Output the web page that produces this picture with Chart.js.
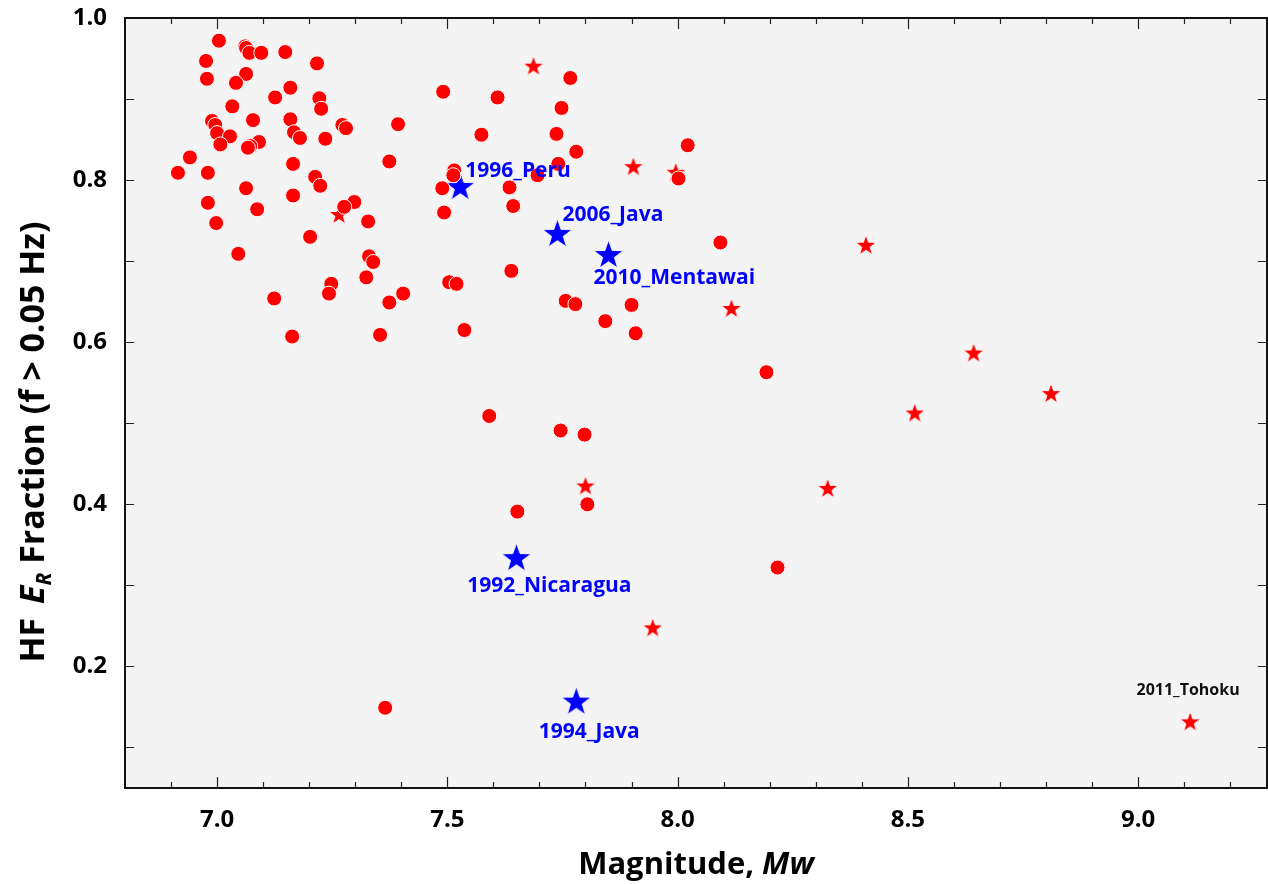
<!DOCTYPE html>
<html>
<head>
<meta charset="utf-8">
<script src="https://cdn.jsdelivr.net/npm/chart.js@4.4.1/dist/chart.umd.min.js"></script>
<style>
  html, body { margin: 0; padding: 0; background: #fff; }
  #wrap { width: 1268px; height: 884px; }
</style>
</head>
<body>
<div id="wrap"><canvas id="myChart" width="1268" height="884"></canvas></div>
<script>
// events shown as red circles (Mw, HF fraction)
const circleMw = [7.004, 7.061, 7.063, 7.070, 7.096, 7.148, 6.976, 7.217, 6.978, 7.063,
  7.041, 7.159, 7.491, 7.126, 7.222, 7.226, 7.033, 6.989, 6.996, 7.078,
  7.159, 7.167, 7.180, 7.272, 7.280, 7.393, 7.000, 7.028, 7.007, 7.091,
  7.072, 7.067, 7.235, 6.941, 7.374, 6.915, 6.980, 7.165, 7.213, 7.224,
  7.515, 7.513, 7.489, 7.063, 7.165, 6.980, 7.087, 7.298, 7.276, 7.328,
  7.493, 6.998, 7.202, 7.046, 7.330, 7.339, 7.324, 7.504, 7.520, 7.248,
  7.243, 7.124, 7.404, 7.374, 7.163, 7.354, 7.537, 7.591, 7.652, 7.767,
  7.609, 7.748, 7.574, 7.737, 7.780, 8.022, 7.741, 7.635, 7.696, 7.643,
  8.002, 8.093, 7.639, 7.757, 7.778, 7.900, 7.843, 7.909, 8.193, 7.746,
  7.798, 7.804, 8.217, 7.365];
const circleFrac = [0.972, 0.965, 0.963, 0.957, 0.957, 0.958, 0.947, 0.944, 0.925, 0.931,
  0.920, 0.914, 0.909, 0.902, 0.901, 0.888, 0.891, 0.873, 0.868, 0.874,
  0.875, 0.859, 0.852, 0.868, 0.864, 0.869, 0.858, 0.854, 0.844, 0.847,
  0.842, 0.840, 0.851, 0.828, 0.823, 0.809, 0.809, 0.820, 0.804, 0.793,
  0.812, 0.806, 0.790, 0.790, 0.781, 0.772, 0.764, 0.773, 0.767, 0.749,
  0.760, 0.747, 0.730, 0.709, 0.706, 0.699, 0.680, 0.674, 0.672, 0.672,
  0.660, 0.654, 0.660, 0.649, 0.607, 0.609, 0.615, 0.509, 0.391, 0.926,
  0.902, 0.889, 0.856, 0.857, 0.835, 0.843, 0.820, 0.791, 0.806, 0.768,
  0.802, 0.723, 0.688, 0.651, 0.647, 0.646, 0.626, 0.611, 0.563, 0.491,
  0.486, 0.400, 0.322, 0.149];

// events shown as red stars
const starMw = [7.687, 7.904, 7.996, 7.265, 8.409, 8.117, 8.643, 8.811, 8.515, 7.800, 8.326, 7.946, 9.113];
const starFrac = [0.940, 0.816, 0.809, 0.757, 0.719, 0.641, 0.586, 0.536, 0.512, 0.422, 0.419, 0.247, 0.131];
const starNames = ["", "", "", "", "", "", "", "", "", "", "", "", "2011_Tohoku"];

// tsunami earthquakes (blue stars)
const tsunamiNames = ["1996_Peru", "2006_Java", "2010_Mentawai", "1992_Nicaragua", "1994_Java"];
const tsunamiMw = [7.528, 7.739, 7.850, 7.650, 7.780];
const tsunamiFrac = [0.791, 0.733, 0.707, 0.333, 0.156];

const xTicks = [7.0, 7.5, 8.0, 8.5, 9.0];
const yTicks = [0.2, 0.4, 0.6, 0.8, 1.0];

// label offsets in pixels from the star centre
const tsunamiLabelOffset = [[5, -16, "left"], [5, -19, "left"], [-15, 23, "left"], [33, 27, "center"], [13, 30, "center"]];

function makeStar(R, color) {
  const c = document.createElement("canvas");
  const s = Math.ceil(2 * R + 4);
  c.width = s; c.height = s;
  const g = c.getContext("2d");
  const r = R * 0.4;
  g.beginPath();
  for (let i = 0; i < 10; i++) {
    const a = -Math.PI / 2 + i * Math.PI / 5;
    const rr = i % 2 === 0 ? R : r;
    const px = s / 2 + rr * Math.cos(a);
    const py = s / 2 + rr * Math.sin(a);
    if (i === 0) g.moveTo(px, py); else g.lineTo(px, py);
  }
  g.closePath();
  g.fillStyle = color;
  g.fill();
  g.lineWidth = 1;
  g.strokeStyle = "rgba(255,255,255,0.9)";
  g.stroke();
  return c;
}

const redStar = makeStar(11, "#ff0000");
const blueStar = makeStar(15.5, "#0000ff");

const FONT = "'Open Sans', 'DejaVu Sans', sans-serif";

const framePlugin = {
  id: "frame",
  beforeDraw(chart) {
    const { ctx, chartArea: a } = chart;
    ctx.save();
    ctx.fillStyle = "#f4f4f4";
    ctx.fillRect(a.left, a.top, a.right - a.left, a.bottom - a.top);
    ctx.restore();
  },
  afterDraw(chart) {
    const { ctx, chartArea: a } = chart;
    const xs = chart.scales.x, ys = chart.scales.y;
    ctx.save();
    ctx.strokeStyle = "#222";
    ctx.lineWidth = 1.2;
    // minor/major ticks, pointing inward
    for (let i = 69; i <= 92; i++) {
      const v = i / 10;
      const px = Math.round(xs.getPixelForValue(v)) + 0.5;
      const len = (i % 5 === 0) ? 11 : 6;
      ctx.beginPath();
      ctx.moveTo(px, a.bottom); ctx.lineTo(px, a.bottom - len);
      ctx.moveTo(px, a.top); ctx.lineTo(px, a.top + len);
      ctx.stroke();
    }
    for (let i = 1; i <= 9; i++) {
      const v = i / 10;
      const py = Math.round(ys.getPixelForValue(v)) + 0.5;
      ctx.beginPath();
      ctx.moveTo(a.left, py); ctx.lineTo(a.left + 9, py);
      ctx.moveTo(a.right, py); ctx.lineTo(a.right - 9, py);
      ctx.stroke();
    }
    ctx.lineWidth = 2;
    ctx.strokeStyle = "#111";
    ctx.strokeRect(a.left, a.top, a.right - a.left, a.bottom - a.top);

    // labels for tsunami earthquakes
    ctx.textBaseline = "middle";
    ctx.fillStyle = "#0000ff";
    ctx.font = "bold 21px " + FONT;
    tsunamiNames.forEach((name, i) => {
      const px = xs.getPixelForValue(tsunamiMw[i]);
      const py = ys.getPixelForValue(tsunamiFrac[i]);
      const off = tsunamiLabelOffset[i];
      ctx.textAlign = off[2];
      ctx.fillText(name, px + off[0], py + off[1]);
    });
    ctx.fillStyle = "#111";
    ctx.font = "bold 16px " + FONT;
    ctx.textAlign = "center";
    starNames.forEach((name, i) => {
      if (!name) return;
      ctx.fillText(name, xs.getPixelForValue(starMw[i]) - 2, ys.getPixelForValue(starFrac[i]) - 32);
    });

    // axis titles
    ctx.fillStyle = "#000";
    ctx.textBaseline = "alphabetic";
    ctx.textAlign = "left";
    const cx = (a.left + a.right) / 2;
    const t1 = "Magnitude, ", t2 = "Mw";
    ctx.font = "bold 31px " + FONT;
    const w1 = ctx.measureText(t1).width;
    ctx.font = "italic bold 31px " + FONT;
    const w2 = ctx.measureText(t2).width;
    let x0 = cx - (w1 + w2) / 2;
    ctx.font = "bold 31px " + FONT;
    ctx.fillText(t1, x0, 874);
    ctx.font = "italic bold 31px " + FONT;
    ctx.fillText(t2, x0 + w1, 874);

    // y title, rotated
    const parts = [
      ["HF ", "bold 34px ", 0, 5],
      ["E", "italic bold 34px ", 0, 0],
      ["R", "italic bold 21px ", 7, 0],
      [" Fraction (f > 0.05 Hz)", "bold 34px ", 0, 0]
    ];
    let total = 0;
    parts.forEach(p => { ctx.font = p[1] + FONT; total += ctx.measureText(p[0]).width + p[3]; });
    ctx.translate(44, 442);
    ctx.rotate(-Math.PI / 2);
    let xx = -total / 2;
    parts.forEach(p => {
      ctx.font = p[1] + FONT;
      ctx.fillText(p[0], xx, p[2]);
      xx += ctx.measureText(p[0]).width + p[3];
    });
    ctx.restore();
  }
};

const ctx = document.getElementById("myChart");

const myChart = new Chart(ctx, {
  type: "scatter",
  data: {
    datasets: [
      {
        label: "events",
        data: circleMw.map((m, i) => ({ x: m, y: circleFrac[i] })),
        pointStyle: "circle",
        pointRadius: 7.5,
        backgroundColor: "#ff0000",
        borderColor: "#ffffff",
        borderWidth: 1
      },
      {
        label: "large events",
        data: starMw.map((m, i) => ({ x: m, y: starFrac[i] })),
        pointStyle: redStar
      },
      {
        label: "tsunami earthquakes",
        data: tsunamiMw.map((m, i) => ({ x: m, y: tsunamiFrac[i] })),
        pointStyle: blueStar
      }
    ]
  },
  options: {
    responsive: false,
    animation: false,
    devicePixelRatio: 1,
    layout: { autoPadding: false, padding: { top: 18, right: 1, left: 0, bottom: 0 } },
    plugins: { legend: { display: false }, tooltip: { enabled: false } },
    scales: {
      x: {
        type: "linear",
        min: 6.8,
        max: 9.28,
        grid: { display: false },
        border: { display: false },
        afterBuildTicks: s => { s.ticks = xTicks.map(v => ({ value: v })); },
        afterFit: s => { s.height = 96; s.paddingLeft = 0; s.paddingRight = 0; },
        ticks: {
          padding: 10,
          color: "#000",
          font: { family: FONT, size: 24, weight: "bold" },
          callback: v => Number(v).toFixed(1)
        }
      },
      y: {
        type: "linear",
        min: 0.05,
        max: 1.0,
        grid: { display: false },
        border: { display: false },
        afterBuildTicks: s => { s.ticks = yTicks.map(v => ({ value: v })); },
        afterFit: s => { s.width = 125; s.paddingTop = 0; s.paddingBottom = 0; },
        ticks: {
          padding: 10,
          color: "#000",
          font: { family: FONT, size: 24, weight: "bold" },
          callback: v => Number(v).toFixed(1)
        }
      }
    }
  },
  plugins: [framePlugin]
});
</script>
</body>
</html>
